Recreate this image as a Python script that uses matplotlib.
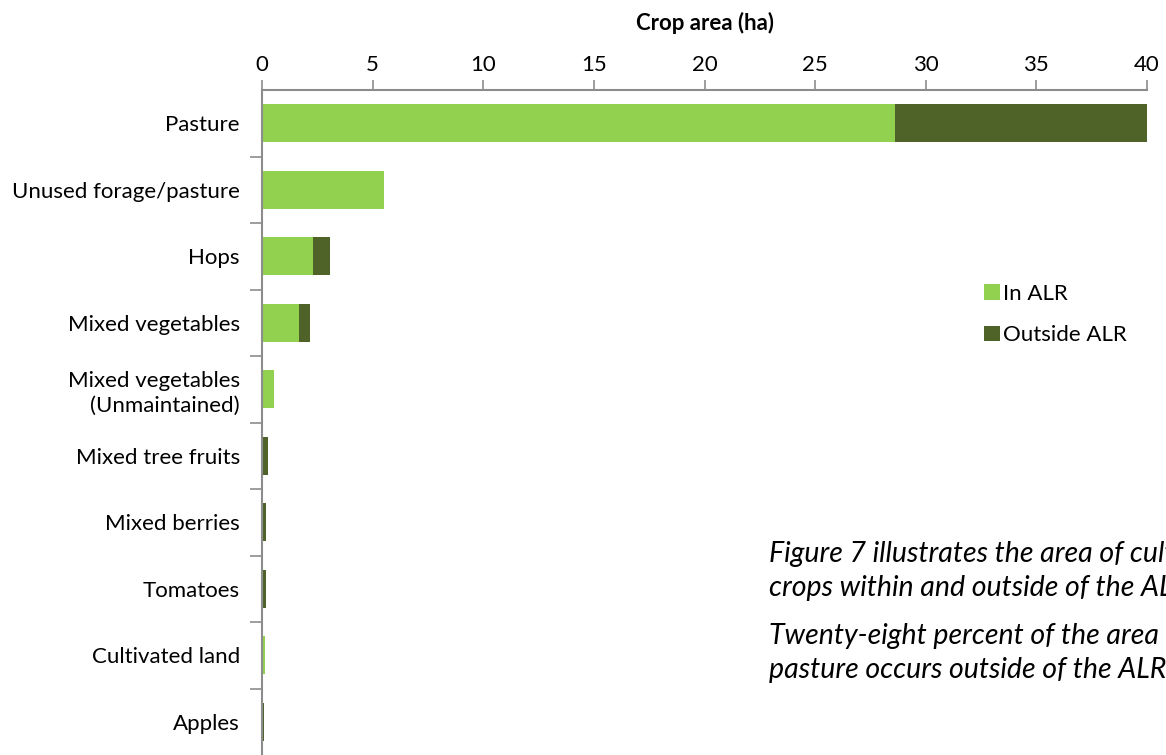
import numpy as np
import matplotlib.pyplot as plt

# ── data: crop area (ha) by crop, split by ALR status ──
crops = ["Pasture", "Unused forage/pasture", "Hops", "Mixed vegetables",
         "Mixed vegetables\n(Unmaintained)", "Mixed tree fruits", "Mixed berries",
         "Tomatoes", "Cultivated land", "Apples"]
in_alr = [28.6, 5.5, 2.3, 1.67, 0.54, 0.0, 0.0, 0.0, 0.12, 0.0]
outside_alr = [11.4, 0.0, 0.77, 0.5, 0.0, 0.27, 0.17, 0.17, 0.0, 0.1]
xticks = [0, 5, 10, 15, 20, 25, 30, 35, 40]

LIGHT = "#92D050"
DARK = "#4F6228"
AXIS = "#8C8C8C"
FS = 16

plt.rcParams["font.family"] = ["Lato", "DejaVu Sans"]

fig = plt.figure(figsize=(11.66, 7.55), dpi=100)
ax = fig.add_axes([262 / 1166, 0.0, (1147 - 262) / 1166, 1 - 90 / 755])

y = np.arange(len(crops))
ax.barh(y, in_alr, height=0.57, color=LIGHT, label="In ALR")
ax.barh(y, outside_alr, left=in_alr, height=0.57, color=DARK, label="Outside ALR")

ax.set_ylim(len(crops) - 0.5, -0.5)
ax.set_xlim(0, 40)

# x axis on top
ax.xaxis.tick_top()
ax.xaxis.set_label_position("top")
ax.set_xticks(xticks)
ax.set_xticklabels([str(t) for t in xticks], fontsize=FS)
ax.set_xlabel("Crop area (ha)", fontsize=FS, fontweight="bold", labelpad=18)
ax.tick_params(axis="x", direction="out", length=7, width=1.2, color=AXIS, pad=4)

# category labels centred, tick marks between categories
ax.set_yticks(y)
ax.set_yticklabels(crops, fontsize=FS, linespacing=1.3)
ax.tick_params(axis="y", which="major", length=0, pad=16)
ax.set_yticks(np.arange(0.5, len(crops) - 0.5, 1.0), minor=True)
ax.tick_params(axis="y", which="minor", direction="out", length=9, width=1.2, color=AXIS)

for side in ["right", "bottom"]:
    ax.spines[side].set_visible(False)
for side in ["left", "top"]:
    ax.spines[side].set_color(AXIS)
    ax.spines[side].set_linewidth(1.5)

fig.legend(loc="upper left", bbox_to_anchor=(964 / 1166, 1 - 264 / 755),
           frameon=False, fontsize=FS, handlelength=0.7, handleheight=0.7,
           handletextpad=0.15, labelspacing=0.95)

# side note, running past the right edge of the figure
note = ("Figure 7 illustrates the area of cultivated\n"
        "crops within and outside of the ALR.")
note2 = ("Twenty-eight percent of the area in\n"
         "pasture occurs outside of the ALR.")
fig.text(769 / 1166, 1 - 541 / 755, note, fontsize=20.5, style="italic",
         va="top", ha="left", linespacing=1.36)
fig.text(769 / 1166, 1 - 623 / 755, note2, fontsize=20.5, style="italic",
         va="top", ha="left", linespacing=1.36)

fig.savefig("out.png", dpi=100)
